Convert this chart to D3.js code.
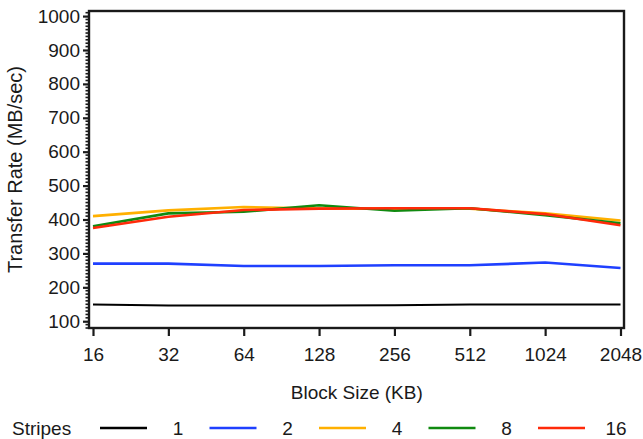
<!DOCTYPE html>
<html>
<head>
<meta charset="utf-8">
<script src="https://cdn.jsdelivr.net/npm/d3@7"></script>
<style>
  html, body { margin: 0; padding: 0; background: #fff; }
  svg { display: block; font-family: "Liberation Sans", Arial, Helvetica, sans-serif; }
</style>
</head>
<body>
<svg id="chart" width="643" height="439"></svg>
<script>
// Block sizes (KB) along the x axis
const blockSizes = ["16", "32", "64", "128", "256", "512", "1024", "2048"];

// Transfer rate (MB/sec) for each stripe count
const stripes1  = [149, 146, 146, 146, 147, 149, 149, 149];
const stripes2  = [270, 270, 263, 263, 265, 265, 273, 257];
const stripes4  = [410, 427, 437, 432, 432, 432, 418, 397];
const stripes8  = [380, 418, 423, 442, 426, 433, 413, 389];
const stripes16 = [375, 408, 428, 432, 433, 433, 416, 383];

const stripeLabels = ["1", "2", "4", "8", "16"];
const stripeColors = ["#000000", "#1f40ff", "#ffb000", "#108a10", "#ff2a0a"];

const yTicks = [100, 200, 300, 400, 500, 600, 700, 800, 900, 1000];

const series = [stripes1, stripes2, stripes4, stripes8, stripes16].map((vals, i) => ({
  label: stripeLabels[i],
  color: stripeColors[i],
  values: vals
}));

const svg = d3.select("#chart");
const frame = { left: 89, right: 624, top: 11, bottom: 328 };
const ink = "#1a1a1a";
const fontSize = 19;

const x = d3.scalePoint().domain(blockSizes).range([93, 620.5]);
const y = d3.scaleLinear().domain([80, 1015]).range([frame.bottom, frame.top]);

// Minor ticks every 10 on the left axis
const minorTicks = d3.range(80, 1011, 10).filter(v => v % 100 !== 0);
svg.append("g")
  .selectAll("line")
  .data(minorTicks)
  .join("line")
  .attr("x1", frame.left - 3.5).attr("x2", frame.left)
  .attr("y1", d => y(d)).attr("y2", d => y(d))
  .attr("stroke", ink).attr("stroke-width", 1.6);

// Left axis: major ticks and labels
const yAxis = d3.axisLeft(y).tickValues(yTicks).tickFormat(d3.format("d"))
  .tickSize(6).tickPadding(3).tickSizeOuter(0);
const gy = svg.append("g").attr("transform", `translate(${frame.left},0)`).call(yAxis);
gy.select(".domain").remove();
gy.selectAll(".tick line").attr("stroke", ink).attr("stroke-width", 2.2);
gy.selectAll(".tick text")
  .attr("fill", ink).attr("font-size", fontSize).attr("font-family", "Liberation Sans, Arial, sans-serif");

// Bottom axis: ticks and labels
const xAxis = d3.axisBottom(x).tickSize(8).tickPadding(12).tickSizeOuter(0);
const gx = svg.append("g").attr("transform", `translate(0,${frame.bottom})`).call(xAxis);
gx.select(".domain").remove();
gx.selectAll(".tick line").attr("stroke", ink).attr("stroke-width", 2.2);
gx.selectAll(".tick text")
  .attr("fill", ink).attr("font-size", fontSize).attr("font-family", "Liberation Sans, Arial, sans-serif");

// Series lines
const line = d3.line()
  .x((d, i) => x(blockSizes[i]))
  .y(d => y(d));

svg.append("g")
  .selectAll("path")
  .data(series)
  .join("path")
  .attr("d", d => line(d.values))
  .attr("fill", "none")
  .attr("stroke", d => d.color)
  .attr("stroke-width", (d, i) => i === 0 ? 2 : 2.6)
  .attr("stroke-linejoin", "round");

// Plot frame
svg.append("rect")
  .attr("x", frame.left).attr("y", frame.top)
  .attr("width", frame.right - frame.left).attr("height", frame.bottom - frame.top)
  .attr("fill", "none").attr("stroke", ink).attr("stroke-width", 2.4);

// Axis titles
svg.append("text")
  .attr("transform", `translate(22,${(frame.top + frame.bottom) / 2}) rotate(-90)`)
  .attr("text-anchor", "middle")
  .attr("font-size", 20).attr("fill", ink)
  .text("Transfer Rate (MB/sec)");

svg.append("text")
  .attr("x", (x.range()[0] + x.range()[1]) / 2).attr("y", 399)
  .attr("text-anchor", "middle")
  .attr("font-size", fontSize).attr("fill", ink)
  .text("Block Size (KB)");

// Legend
const legend = svg.append("g");
legend.append("text")
  .attr("x", 12).attr("y", 435)
  .attr("font-size", fontSize).attr("fill", ink)
  .text("Stripes");

const item = legend.selectAll("g.item")
  .data(series)
  .join("g")
  .attr("class", "item")
  .attr("transform", (d, i) => `translate(${100 + i * 109.5},0)`);

item.append("line")
  .attr("x1", 0).attr("x2", 47)
  .attr("y1", 428).attr("y2", 428)
  .attr("stroke", d => d.color).attr("stroke-width", 2.6);

item.append("text")
  .attr("x", 78).attr("y", 435)
  .attr("text-anchor", "middle")
  .attr("font-size", fontSize).attr("fill", ink)
  .text(d => d.label);
</script>
</body>
</html>
